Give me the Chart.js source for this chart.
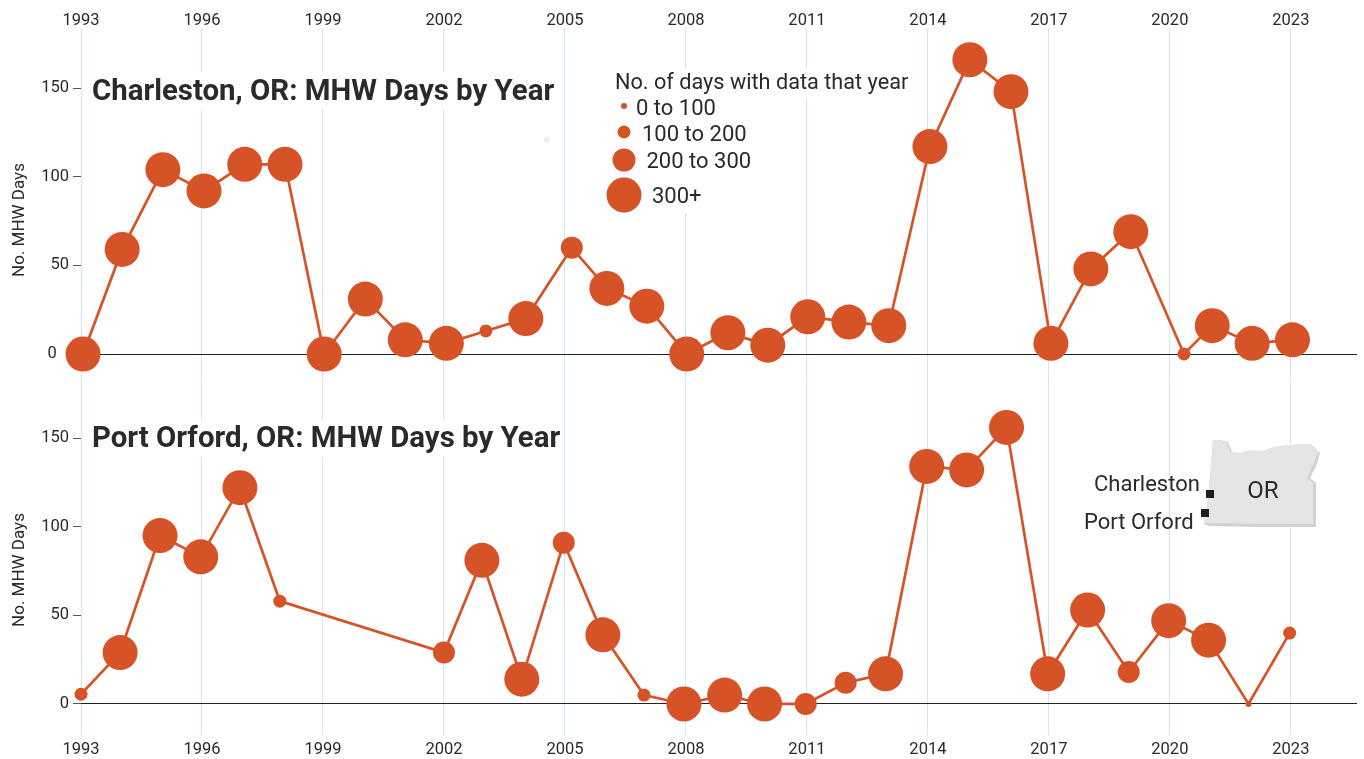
<!DOCTYPE html>
<html lang="en">
<head>
<meta charset="UTF-8">
<title>MHW Days by Year</title>
<script src="https://cdn.jsdelivr.net/npm/chart.js"></script>
<style>
  html, body { margin: 0; padding: 0; background: #fff; overflow: hidden; }
  #wrap { position: relative; width: 1364px; height: 759px; font-family: Roboto, sans-serif; color: #2a2a2a; }
  canvas { position: absolute; left: 0; top: 0; }
  .txt { position: absolute; white-space: nowrap; transform: translateY(-50%); line-height: 1; }
  .title { font-size: 29.4px; font-weight: 700; background: #fff; left: 92px; padding: 4px 0; }
  .leg { font-size: 21.7px; }
  .row { font-size: 22px; }
  .mask { position: absolute; background: #fff; }
  .dot { position: absolute; border-radius: 50%; background: #d65327; transform: translate(-50%, -50%); }
  .ytitle { position: absolute; left: 18px; font-size: 17px; white-space: nowrap; transform: translate(-50%, -50%) rotate(-90deg); }
  .sq { position: absolute; width: 8px; height: 8px; background: #1f1f1f; }
  svg { position: absolute; left: 0; top: 0; }
</style>
</head>
<body>
<div id="wrap">
  <canvas id="chart" width="1364" height="759"></canvas>

  <div class="txt title" style="top:91px">Charleston, OR: MHW Days by Year</div>
  <div class="txt title" style="top:438px">Port Orford, OR: MHW Days by Year</div>
  <div class="ytitle" style="top:220px">No. MHW Days</div>
  <div class="ytitle" style="top:570px">No. MHW Days</div>

  <div class="mask" style="left:607px;top:68px;width:303px;height:30px"></div>
  <div class="mask" style="left:607px;top:98px;width:153px;height:115px"></div>
  <div class="txt leg" style="left:615px;top:82px">No. of days with data that year</div>
  <div class="dot" style="left:624px;top:106px;width:6px;height:6px"></div>
  <div class="txt row" style="left:636px;top:108px">0 to 100</div>
  <div class="dot" style="left:624px;top:132px;width:13px;height:13px"></div>
  <div class="txt row" style="left:642px;top:134px">100 to 200</div>
  <div class="dot" style="left:624px;top:160px;width:23px;height:23px"></div>
  <div class="txt row" style="left:646.5px;top:161px">200 to 300</div>
  <div class="dot" style="left:624px;top:195px;width:35px;height:35px"></div>
  <div class="txt row" style="left:652px;top:196px">300+</div>

  <svg width="1364" height="759">
    <polygon fill="#cfd1d2" points="1213,440 1220,440 1228,442 1232,452 1240,453 1250,451 1262,451 1277,447 1290,445 1310,444 1320,453 1317,464 1310,478 1316,483 1316,527 1262,527 1210,526 1204,524 1208,500 1212,453"/>
    <polygon fill="#e4e5e7" points="1213,440 1220,440 1227,443 1230,452 1240,453 1250,450 1262,451 1277,446 1290,445 1309,444 1318,452 1314,463 1307,478 1313,483 1313,524 1262,524 1208,523 1204,523 1208,500 1212,453"/>
  </svg>
  <div class="txt" style="left:1263px;top:490px;font-size:24px;transform:translate(-50%,-50%)">OR</div>
  <div class="txt" style="left:1094px;top:484px;font-size:22px">Charleston</div>
  <div class="txt" style="left:1084px;top:522px;font-size:22px">Port Orford</div>
  <div class="sq" style="left:1206px;top:490px"></div>
  <div class="sq" style="left:1201px;top:509px"></div>
</div>

<script>
  const tickYears = [1993, 1996, 1999, 2002, 2005, 2008, 2011, 2014, 2017, 2020, 2023];
  const yTickValues = [0, 50, 100, 150];

  //x positions are not whole years, the dots sit where the source put them
  const charlestonX = [1993.05, 1994.02, 1995.03, 1996.05, 1997.06, 1998.06, 1999.03, 2000.05, 2001.04, 2002.06, 2003.04, 2004.03, 2005.17, 2006.04, 2007.03, 2008.02, 2009.04, 2010.03, 2011.02, 2012.04, 2013.03, 2014.05, 2015.04, 2016.06, 2017.05, 2018.04, 2019.03, 2020.35, 2021.05, 2022.04, 2023.04];
  const charlestonDays = [0, 59, 104, 92, 107, 107, 0, 31, 8, 6, 13, 20, 60, 37, 27, 0, 12, 5, 21, 18, 16, 117, 166, 148, 6, 48, 69, 0, 16, 6, 8];
  //size bins: 0 = 0-100, 1 = 100-200, 2 = 200-300, 3 = 300+
  const charlestonBins = [3, 3, 3, 3, 3, 3, 3, 3, 3, 3, 1, 3, 2, 3, 3, 3, 3, 3, 3, 3, 3, 3, 3, 3, 3, 3, 3, 1, 3, 3, 3];

  const portOrfordX = [1993, 1993.97, 1994.96, 1995.97, 1996.94, 1997.93, 2002, 2002.94, 2003.93, 2004.97, 2005.94, 2006.96, 2007.95, 2008.96, 2009.95, 2010.97, 2011.96, 2012.95, 2013.97, 2014.96, 2015.95, 2016.97, 2017.96, 2018.98, 2019.97, 2020.96, 2021.95, 2022.97];
  const portOrfordDays = [5.5, 29, 95, 83, 122, 58, 29, 81, 14, 91, 39, 5, 0, 5, 0, 0, 12, 17, 134, 132, 156, 17, 53, 18, 47, 36, 0, 40];
  const portOrfordBins = [1, 3, 3, 3, 3, 1, 2, 3, 3, 2, 3, 1, 3, 3, 3, 2, 2, 3, 3, 3, 3, 3, 3, 2, 3, 3, 0, 1];

  //faint leftover mark above the 2005 dot
  const strayX = [2004.55];
  const strayDays = [121];

  const binRadius = [3, 6.5, 11, 17.5];
  const orange = '#d65327';
  const fontFamily = 'Roboto, sans-serif';

  function series(xs, ys, bins, axis) {
    return {
      type: 'line',
      data: xs.map((x, i) => ({ x: x, y: ys[i] })),
      yAxisID: axis,
      xAxisID: 'x',
      borderColor: orange,
      borderWidth: 2.7,
      backgroundColor: orange,
      pointBackgroundColor: orange,
      pointBorderWidth: 0,
      pointRadius: bins.map(b => binRadius[b]),
      pointHoverRadius: bins.map(b => binRadius[b]),
      tension: 0,
      clip: false
    };
  }

  function xAxis(position, padding, height) {
    return {
      type: 'linear',
      position: position,
      min: 1993,
      max: 2024.64,
      grid: { color: '#cfe9e6', lineWidth: 1, drawTicks: false, drawOnChartArea: position === 'bottom' },
      border: { display: false },
      afterBuildTicks: s => { s.ticks = tickYears.map(v => ({ value: v })); },
      afterFit: s => { s.height = height; },
      ticks: {
        autoSkip: false,
        maxRotation: 0,
        padding: padding,
        color: '#2a2a2a',
        font: { family: fontFamily, size: 16.5 },
        callback: v => String(v)
      }
    };
  }

  //zeroLabel is pushed left on the top panel, the 1993 dot sits over that spot
  function yAxis(min, max, weight, zeroLabel, zeroTick) {
    return {
      type: 'linear',
      position: 'left',
      stack: 'panels',
      stackWeight: weight,
      min: min,
      max: max,
      border: { display: false },
      grid: {
        color: c => (c.tick && c.tick.value === 0 ? '#222222' : 'transparent'),
        tickColor: c => (c.tick && c.tick.value === 0 ? zeroTick : '#555555'),
        tickLength: 8,
        lineWidth: 1
      },
      afterBuildTicks: s => { s.ticks = yTickValues.map(v => ({ value: v })); },
      afterFit: s => { s.width = 81; },
      ticks: {
        autoSkip: false,
        padding: 4,
        color: '#2a2a2a',
        font: { family: fontFamily, size: 16.5 },
        callback: v => (v === 0 ? zeroLabel : String(v))
      }
    };
  }

  new Chart(document.getElementById('chart').getContext('2d'), {
    type: 'line',
    data: {
      datasets: [
        series(charlestonX, charlestonDays, charlestonBins, 'yTop'),
        series(portOrfordX, portOrfordDays, portOrfordBins, 'yBottom'),
        {
          type: 'line',
          data: strayX.map((x, i) => ({ x: x, y: strayDays[i] })),
          yAxisID: 'yTop',
          xAxisID: 'x',
          showLine: false,
          pointRadius: 3,
          pointBorderWidth: 0,
          pointBackgroundColor: '#eeeeee'
        }
      ]
    },
    options: {
      responsive: false,
      animation: false,
      layout: { autoPadding: false, padding: { left: 0, right: 7, top: 0, bottom: 0 } },
      plugins: { legend: { display: false }, tooltip: { enabled: false } },
      scales: {
        x: xAxis('bottom', 5, 24),
        xTop: xAxis('top', -3, 28),
        //stack order goes bottom to top
        yBottom: yAxis(-17.5, 183.3, 356, '0', '#555555'),
        yTop: yAxis(-14.1, 183.9, 351, '0   ', 'transparent')
      }
    }
  });
</script>
</body>
</html>
